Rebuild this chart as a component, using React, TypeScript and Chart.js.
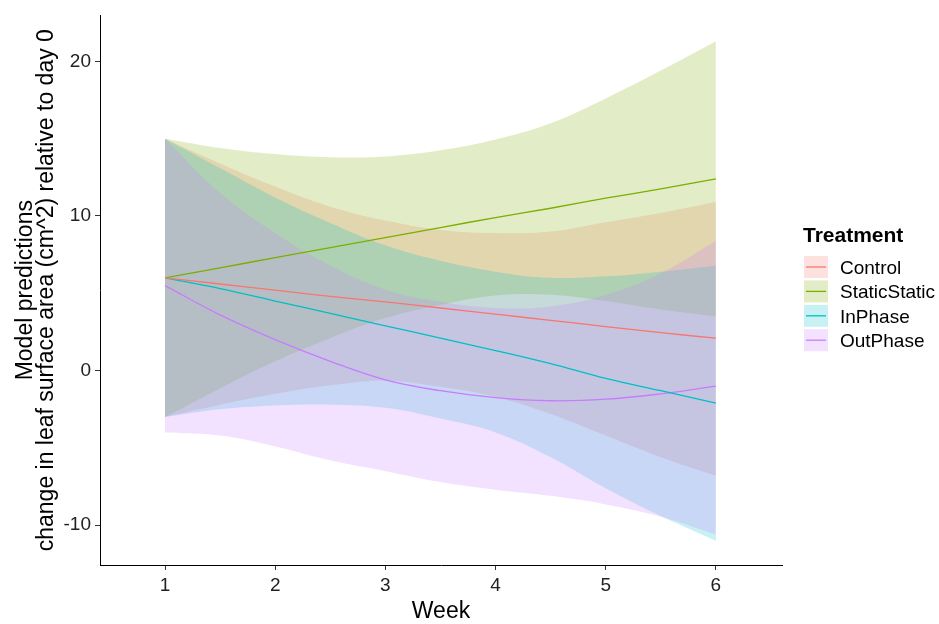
import React, { useEffect, useRef } from "react";
import { Chart, registerables } from "chart.js";

Chart.register(...registerables);

const FONT = '"Liberation Sans", Arial, Helvetica, sans-serif';

const weeks = [1, 1.5, 2, 2.5, 3, 3.5, 4, 4.5, 5, 5.5, 6];
const treatments = ["Control", "StaticStatic", "InPhase", "OutPhase"];
const colors = ["#F8766D", "#7CAE00", "#00BFC4", "#C77CFF"];

const controlFit = [6.0, 5.6, 5.2, 4.8, 4.45, 4.05, 3.65, 3.25, 2.85, 2.45, 2.1];
const controlUpper = [15.0, 13.4, 11.9, 10.6, 9.7, 9.1, 8.9, 9.0, 9.6, 10.2, 10.9];
const controlLower = [-3.0, -2.2, -1.5, -0.95, -0.65, -1.05, -1.7, -2.8, -4.2, -5.6, -6.8];

const staticFit = [6.0, 6.65, 7.3, 7.95, 8.6, 9.25, 9.9, 10.5, 11.15, 11.75, 12.4];
const staticUpper = [15.0, 14.4, 14.0, 13.8, 13.85, 14.25, 14.95, 16.0, 17.6, 19.4, 21.3];
const staticLower = [-3.0, -1.15, 0.6, 2.1, 3.4, 4.25, 4.85, 4.9, 4.5, 3.95, 3.5];

const inPhaseFit = [6.0, 5.3, 4.5, 3.7, 2.9, 2.1, 1.3, 0.45, -0.5, -1.3, -2.1];
const inPhaseUpper = [15.0, 13.1, 11.2, 9.55, 8.1, 7.1, 6.4, 6.0, 6.1, 6.4, 6.8];
const inPhaseLower = [-3.0, -2.5, -2.25, -2.2, -2.4, -3.1, -4.0, -5.6, -7.6, -9.4, -11.0];

const outPhaseFit = [5.5, 3.6, 2.0, 0.6, -0.6, -1.3, -1.75, -1.95, -1.85, -1.5, -1.0];
const outPhaseUpper = [15.0, 11.5, 8.9, 6.8, 5.25, 4.45, 4.05, 4.15, 4.9, 6.3, 8.4];
const outPhaseLower = [-4.0, -4.2, -4.9, -5.8, -6.5, -7.2, -7.7, -8.1, -8.65, -9.45, -10.6];

const fits = [controlFit, staticFit, inPhaseFit, outPhaseFit];
const uppers = [controlUpper, staticUpper, inPhaseUpper, outPhaseUpper];
const lowers = [controlLower, staticLower, inPhaseLower, outPhaseLower];

const xTicks = [1, 2, 3, 4, 5, 6];
const yTicks = [-10, 0, 10, 20];
const xTitle = "Week";
const yTitle = ["Model predictions", "change in leaf surface area (cm^2) relative to day 0"];
const legendTitle = "Treatment";

const RIBBON_ALPHA = 0.22;
const TENSION = 0.4;

function rgba(hex: string, a: number) {
  const n = parseInt(hex.slice(1), 16);
  return `rgba(${(n >> 16) & 255}, ${(n >> 8) & 255}, ${n & 255}, ${a})`;
}

function pts(values: number[]) {
  return weeks.map((w, i) => ({ x: w, y: values[i] }));
}

const annotatePlugin = {
  id: "annotate",
  afterDraw(chart: any) {
    const ctx = chart.ctx as CanvasRenderingContext2D;
    const { left, right, top, bottom } = chart.chartArea;
    ctx.save();
    ctx.fillStyle = "#000";
    ctx.textBaseline = "alphabetic";
    ctx.textAlign = "center";
    ctx.font = `23px ${FONT}`;
    ctx.fillText(xTitle, (left + right) / 2, 618);
    const cy = (top + bottom) / 2;
    const baselines = [32, 53];
    yTitle.forEach((t, i) => {
      ctx.save();
      ctx.translate(baselines[i], cy);
      ctx.rotate(-Math.PI / 2);
      ctx.fillText(t, 0, 0);
      ctx.restore();
    });
    // legend
    ctx.textAlign = "left";
    ctx.font = `bold 21px ${FONT}`;
    ctx.fillText(legendTitle, 803, 242);
    ctx.font = `19px ${FONT}`;
    treatments.forEach((t, i) => {
      const kc = 267 + 24.4 * i;
      ctx.fillStyle = rgba(colors[i], RIBBON_ALPHA);
      ctx.fillRect(804, kc - 11, 24, 22);
      ctx.strokeStyle = colors[i];
      ctx.lineWidth = 1.3;
      ctx.beginPath();
      ctx.moveTo(806, kc);
      ctx.lineTo(826, kc);
      ctx.stroke();
      ctx.fillStyle = "#000";
      ctx.fillText(t, 840, kc + 7);
    });
    ctx.restore();
  },
};

export default function App() {
  const canvasRef = useRef<HTMLCanvasElement | null>(null);

  useEffect(() => {
    const canvas = canvasRef.current;
    if (!canvas) return;
    const datasets: any[] = [];
    treatments.forEach((t, i) => {
      const order = 4 - i;
      datasets.push({
        label: t + " lower",
        data: pts(lowers[i]),
        borderWidth: 0,
        borderColor: "rgba(0,0,0,0)",
        backgroundColor: "rgba(0,0,0,0)",
        pointRadius: 0,
        fill: false,
        tension: TENSION,
        order,
      });
      datasets.push({
        label: t + " upper",
        data: pts(uppers[i]),
        borderWidth: 0,
        borderColor: "rgba(0,0,0,0)",
        backgroundColor: rgba(colors[i], RIBBON_ALPHA),
        pointRadius: 0,
        fill: "-1",
        tension: TENSION,
        order,
      });
    });
    treatments.forEach((t, i) => {
      datasets.push({
        label: t,
        data: pts(fits[i]),
        borderWidth: 1.3,
        borderColor: colors[i],
        backgroundColor: colors[i],
        pointRadius: 0,
        fill: false,
        tension: TENSION,
        order: 0,
      });
    });

    const tickFont = { family: FONT, size: 19 };
    const chart = new Chart(canvas, {
      type: "line",
      data: { datasets },
      plugins: [annotatePlugin],
      options: {
        responsive: false,
        animation: false,
        events: [],
        layout: { padding: { left: 0, right: 157, top: 8, bottom: 0 } },
        plugins: {
          legend: { display: false },
          tooltip: { enabled: false },
          filler: { drawTime: "beforeDatasetsDraw", propagate: false },
        } as any,
        elements: { point: { radius: 0 } },
        scales: {
          x: {
            type: "linear",
            min: 0.41,
            max: 6.6,
            afterBuildTicks: (s: any) => {
              s.ticks = xTicks.map((v) => ({ value: v }));
            },
            afterFit: (s: any) => {
              s.height = 59;
            },
            grid: { drawOnChartArea: false, drawTicks: true, tickLength: 5, color: "#333", lineWidth: 1 },
            border: { display: true, color: "#000", width: 1 },
            ticks: { font: tickFont, color: "#222", padding: 4, maxRotation: 0, autoSkip: false },
          },
          y: {
            type: "linear",
            min: -12.57,
            max: 22.97,
            afterBuildTicks: (s: any) => {
              s.ticks = yTicks.map((v) => ({ value: v }));
            },
            afterFit: (s: any) => {
              s.width = 100;
            },
            grid: { drawOnChartArea: false, drawTicks: true, tickLength: 5, color: "#333", lineWidth: 1 },
            border: { display: true, color: "#000", width: 1 },
            ticks: { font: tickFont, color: "#222", padding: 4, autoSkip: false },
          },
        },
      } as any,
    });
    return () => chart.destroy();
  }, []);

  return (
    <div style={{ position: "absolute", left: 0, top: 0, width: 939, height: 624, background: "#fff" }}>
      <canvas ref={canvasRef} width={939} height={624} style={{ display: "block" }} />
    </div>
  );
}
